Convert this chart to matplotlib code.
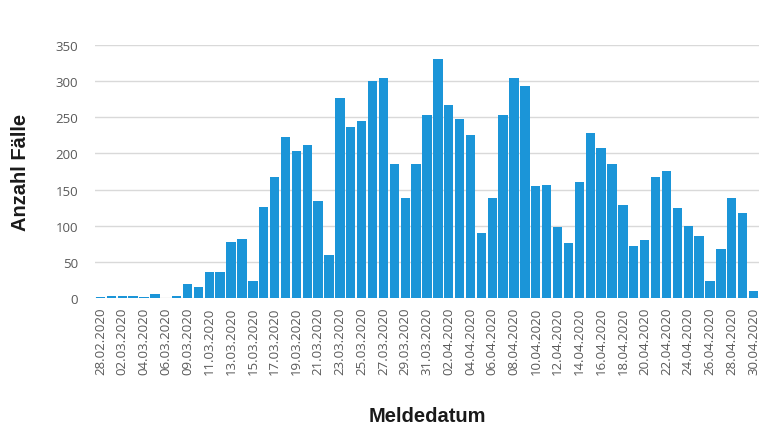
import matplotlib.pyplot as plt
import numpy as np

# Meldedatum (08.03.2020 fehlt im Original)
dates = [
    '28.02.2020', '01.03.2020', '02.03.2020', '03.03.2020', '04.03.2020',
    '05.03.2020', '06.03.2020', '07.03.2020', '09.03.2020', '10.03.2020',
    '11.03.2020', '12.03.2020', '13.03.2020', '14.03.2020', '15.03.2020',
    '16.03.2020', '17.03.2020', '18.03.2020', '19.03.2020', '20.03.2020',
    '21.03.2020', '22.03.2020', '23.03.2020', '24.03.2020', '25.03.2020',
    '26.03.2020', '27.03.2020', '28.03.2020', '29.03.2020', '30.03.2020',
    '31.03.2020', '01.04.2020', '02.04.2020', '03.04.2020', '04.04.2020',
    '05.04.2020', '06.04.2020', '07.04.2020', '08.04.2020', '09.04.2020',
    '10.04.2020', '11.04.2020', '12.04.2020', '13.04.2020', '14.04.2020',
    '15.04.2020', '16.04.2020', '17.04.2020', '18.04.2020', '19.04.2020',
    '20.04.2020', '21.04.2020', '22.04.2020', '23.04.2020', '24.04.2020',
    '25.04.2020', '26.04.2020', '27.04.2020', '28.04.2020', '29.04.2020',
    '30.04.2020',
]

cases = [
    1, 3, 3, 3, 1, 5, 0, 3, 19, 15,
    36, 36, 77, 81, 23, 126, 167, 223, 203, 212,
    134, 59, 277, 236, 245, 300, 305, 186, 139, 186,
    253, 331, 267, 248, 225, 90, 138, 253, 305, 293,
    155, 156, 98, 76, 161, 228, 208, 186, 129, 72,
    80, 167, 175, 125, 100, 86, 23, 68, 138, 117,
    10,
]

y_ticks = [0, 50, 100, 150, 200, 250, 300, 350]

if __name__ == '__main__':
    plt.rcParams['font.family'] = 'Open Sans'

    fig = plt.figure(figsize=(7.82, 4.31), dpi=100)
    ax = fig.add_axes([0.1215, 0.3063, 0.849, 0.587])

    x = np.arange(len(dates))
    ax.bar(x, cases, width=0.86, color='#1b95d8', zorder=3)

    ax.set_xlim(-0.5, len(dates) - 0.5)
    ax.set_ylim(0, 350)
    ax.set_yticks(y_ticks)
    ax.set_xticks(x[::2])
    ax.set_xticklabels(dates[::2], rotation=90, fontsize=9.5, color='#595959')
    ax.tick_params(axis='y', labelsize=9.5, labelcolor='#595959', length=0, pad=12)
    ax.tick_params(axis='x', length=0, pad=6)

    ax.grid(axis='y', color='#d9d9d9', linewidth=1, zorder=0)
    for s in ax.spines.values():
        s.set_visible(False)

    ax.set_ylabel('Anzahl Fälle', fontsize=14.5, fontweight='bold',
                  family='Liberation Sans', color='#1a1a1a')
    ax.yaxis.set_label_coords(-0.098, 0.5)
    ax.set_xlabel('Meldedatum', fontsize=14.5, fontweight='bold',
                  family='Liberation Sans', color='#1a1a1a')
    ax.xaxis.set_label_coords(0.5, -0.425)

    plt.savefig('out.png', dpi=100)
